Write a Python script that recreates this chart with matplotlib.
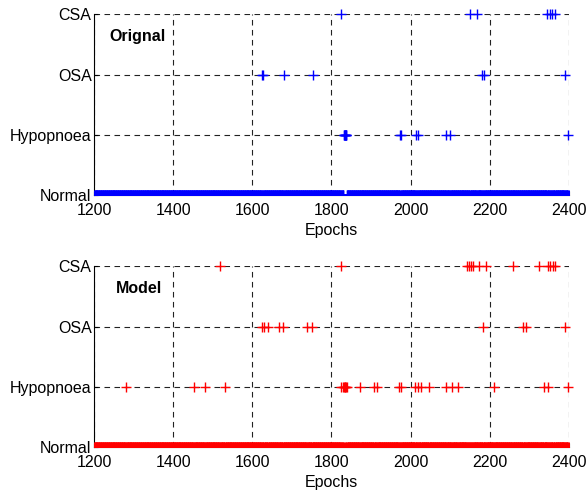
import numpy as np
import matplotlib
matplotlib.use('Agg')
import matplotlib.pyplot as plt

plt.rcParams['font.family'] = ['Liberation Sans', 'DejaVu Sans']

state_names = ['Normal', 'Hypopnoea', 'OSA', 'CSA']
epoch_start = 1200
epoch_end = 2400

# event epochs (everything else is Normal)
orig_csa = [1823, 2150, 2168, 2345, 2352, 2359, 2366]
orig_osa = [1623, 1627, 1681, 1752, 2182, 2185, 2391]
orig_hyp = [1831, 1832, 1833, 1834, 1835, 1836, 1837, 1838,
            1973, 1976, 2015, 2018, 2089, 2101, 2398]

model_csa = [1519, 1823, 2143, 2148, 2153, 2158, 2172, 2191, 2258,
             2324, 2347, 2354, 2361, 2366]
model_osa = [1624, 1630, 1640, 1666, 1678, 1738, 1750, 2183,
             2285, 2291, 2392]
model_hyp = [1280, 1453, 1480, 1531, 1823, 1829, 1831, 1833, 1835,
             1837, 1839, 1871, 1908, 1916, 1971, 1975, 2012, 2018,
             2026, 2046, 2090, 2105, 2119, 2210, 2338, 2347, 2398]


def normal_epochs(events):
    epochs = np.arange(epoch_start, epoch_end + 1)
    taken = set()
    for ev in events:
        taken.update(ev)
    return [e for e in epochs if e not in taken]


def draw_panel(ax, csa, osa, hyp, color, title, title_x):
    normal = normal_epochs([csa, osa, hyp])
    # normal row sits on the axis, lower half of the markers is clipped
    ax.plot(normal, [0] * len(normal), '+', color=color, ms=7, mew=1,
            clip_on=True, zorder=3)
    for vals, lvl in [(hyp, 1), (osa, 2), (csa, 3)]:
        ax.plot(vals, [lvl] * len(vals), '+', color=color, ms=7, mew=1,
                clip_on=False, zorder=3)
    ax.set_xlim(epoch_start, epoch_end)
    ax.set_ylim(0, 3)
    ax.set_yticks([0, 1, 2, 3])
    ax.set_yticklabels(state_names)
    ax.set_xticks(np.arange(1200, 2401, 200))
    ax.tick_params(direction='in', labelsize=11.5, length=3)
    ax.tick_params(axis='x', pad=6)
    ax.tick_params(axis='y', pad=2)
    ax.grid(True, color='#222222', linestyle=(0, (5, 4)), lw=0.8)
    ax.spines['top'].set_visible(False)
    ax.spines['right'].set_visible(False)
    ax.set_xlabel('Epochs', fontsize=11.5, labelpad=3)
    ax.text(title_x, 2.63, title, fontsize=11.5, fontweight='bold', va='center')


fig = plt.figure(figsize=(5.87, 4.99), dpi=100)
ax1 = fig.add_axes([0.1607, 0.609, 0.808, 0.362])
ax2 = fig.add_axes([0.1607, 0.104, 0.808, 0.362])

draw_panel(ax1, orig_csa, orig_osa, orig_hyp, 'blue', 'Orignal', 1238)
draw_panel(ax2, model_csa, model_osa, model_hyp, 'red', 'Model', 1255)

fig.savefig('out.png', dpi=100)
